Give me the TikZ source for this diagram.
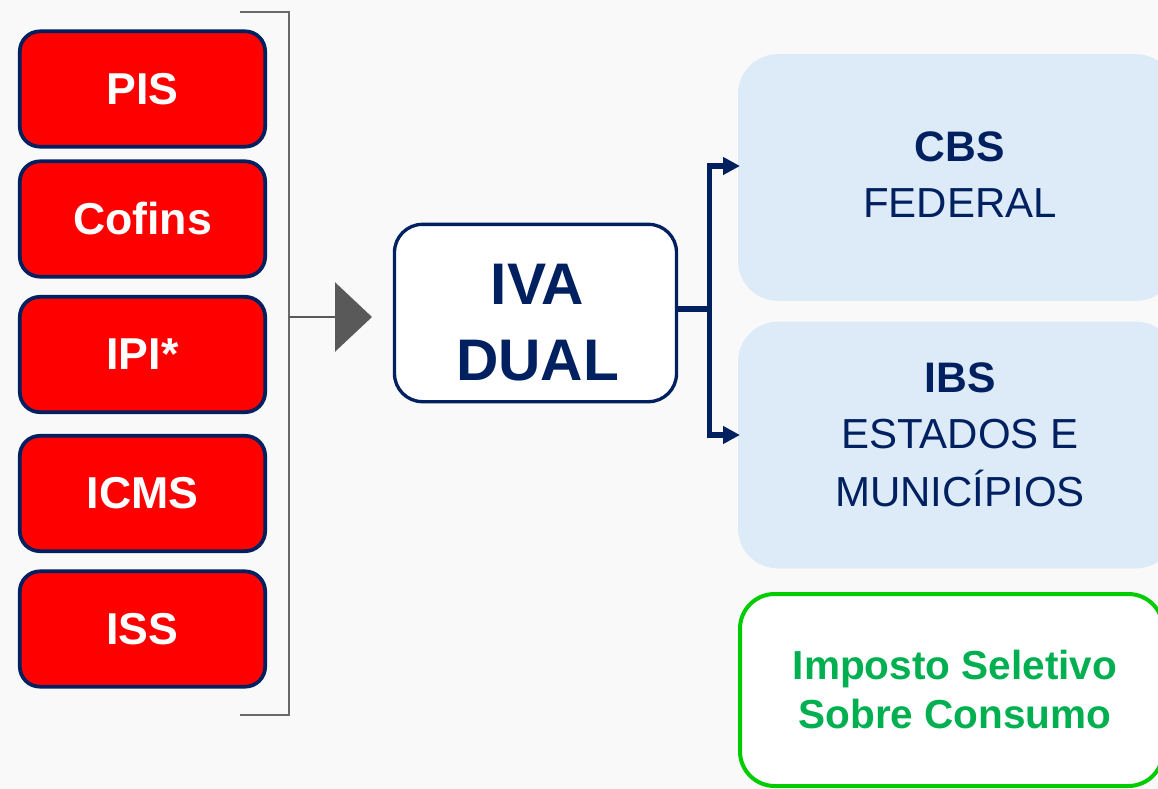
\documentclass[tikz,border=0pt]{standalone}
\usepackage{fontspec}
\setmainfont{Liberation Sans}
\usetikzlibrary{arrows.meta}
\definecolor{navy}{RGB}{0,32,96}
\definecolor{bgc}{RGB}{249,249,250}
\definecolor{lblue}{RGB}{221,234,247}
\definecolor{grn}{RGB}{0,204,0}
\definecolor{grntxt}{RGB}{0,176,80}
\definecolor{darkg}{RGB}{89,89,89}
\definecolor{brk}{RGB}{105,105,105}
\begin{document}
\begin{tikzpicture}[x=0.75pt,y=-0.75pt,
  redbox/.style={draw=navy, line width=2.8pt, fill=red, rounded corners=15pt,
    minimum width=184pt, minimum height=86.5pt, inner sep=0pt, text=white,
    font=\fontsize{33.5}{40}\selectfont\bfseries},
  ivabox/.style={draw=navy, line width=2.5pt, fill=white, rounded corners=21pt,
    minimum width=211.5pt, minimum height=133pt, inner sep=0pt},
  lbox/.style={fill=lblue, rounded corners=30pt, minimum width=328.5pt,
    minimum height=185pt, inner sep=0pt},
  gbox/.style={draw=grn, line width=3pt, fill=white, rounded corners=26pt,
    minimum width=317.25pt, minimum height=144pt, inner sep=0pt},
  ivatxt/.style={anchor=base, inner sep=0pt, text=navy,
    font=\fontsize{44}{50}\selectfont\bfseries},
  btxt/.style={anchor=base, inner sep=0pt, text=navy,
    font=\fontsize{32}{38}\selectfont\bfseries},
  rtxt/.style={anchor=base, inner sep=0pt, text=navy,
    font=\fontsize{31.5}{38}\selectfont},
  gtxt/.style={anchor=base, inner sep=0pt, text=grntxt,
    font=\fontsize{30.4}{36}\selectfont\bfseries},
  bracketline/.style={draw=brk, line width=1.5pt},
  navyline/.style={draw=navy, line width=4pt},
]
\fill[bgc] (0,0) rectangle (1158,789);
\clip (0,0) rectangle (1158,789);

% left tax boxes
\node[redbox] (pis) at (142.5,89) {PIS};
\node[redbox] (cofins) at (142.5,219) {Cofins};
\node[redbox] (ipi) at (142.5,354.5) {IPI*};
\node[redbox] (icms) at (142.5,493.5) {ICMS};
\node[redbox] (iss) at (142.5,629) {ISS};

% bracket
\coordinate (bt1) at (240,12);
\coordinate (bt2) at (289,12);
\coordinate (bb2) at (289,715);
\coordinate (bb1) at (240,715);
\draw[bracketline] (bt1) -- (bt2) -- (bb2) -- (bb1);
\coordinate (bm) at (289,317);
\coordinate (at) at (372,317);
\draw[draw=darkg, line width=1.9pt, -{Triangle[length=27.75pt,width=51.75pt,fill=darkg]}] (bm) -- (at);

% IVA DUAL
\node[ivabox] (iva) at (535.5,313) {};
\node[ivatxt] (iva1) at (537.5,304) {IVA};
\node[ivatxt] (iva2) at (537.5,380) {DUAL};

% right boxes
\node[lbox] (cbs) at (957,177.5) {};
\node[btxt] (cbs1) at (960,161) {CBS};
\node[rtxt] (cbs2) at (960,217) {FEDERAL};

\node[lbox] (ibs) at (957,445) {};
\node[btxt] (ibs1) at (960,392) {IBS};
\node[rtxt] (ibs2) at (960,448) {ESTADOS E};
\node[rtxt] (ibs3) at (960,506) {MUNICÍPIOS};

\node[gbox] (is) at (951.5,690) {};
\node[gtxt] (is1) at (955,679) {Imposto Seletivo};
\node[gtxt] (is2) at (955,728) {Sobre Consumo};

% connectors
\coordinate (j) at (709.5,309);
\coordinate (a1) at (740,166);
\coordinate (a2) at (740,435);
\draw[navyline] (iva.east |- j) -- (j);
\draw[navyline, -{Triangle[length=12.75pt,width=12.75pt]}] (j) |- (a1);
\draw[navyline, -{Triangle[length=12.75pt,width=12.75pt]}] (j) |- (a2);
\end{tikzpicture}
\end{document}
